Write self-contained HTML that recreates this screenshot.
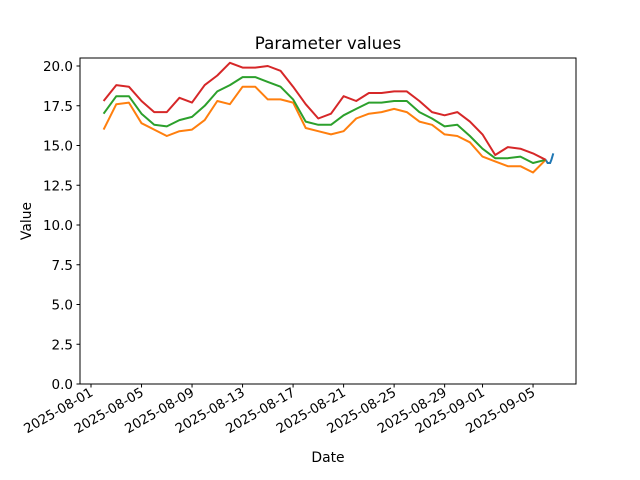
<!DOCTYPE html>
<html><head><meta charset="utf-8"><style>
body{margin:0;background:#fff;}
svg{display:block;font-family:"DejaVu Sans","Liberation Sans",sans-serif;}
</style></head><body>
<svg id="s" width="640" height="480" xmlns="http://www.w3.org/2000/svg">
<rect width="640" height="480" fill="#fff"/>
<text x="328" y="49" font-size="16.7" text-anchor="middle">Parameter values</text>
<text x="328" y="462" font-size="13.9" text-anchor="middle">Date</text>
<text x="0" y="0" font-size="13.9" text-anchor="middle" transform="translate(31,221) rotate(-90)">Value</text>
<g id="g"></g>
<rect x="80" y="58" width="496" height="326" fill="none" stroke="#000" stroke-width="1"/>
</svg>
<script>
var g=document.getElementById('g'),NS='http://www.w3.org/2000/svg';
function el(t,a,txt){var e=document.createElementNS(NS,t);for(var k in a)e.setAttribute(k,a[k]);if(txt)e.textContent=txt;g.appendChild(e);return e;}
function Y(v){return 384-v*15.9;}
function X(d){return 91+d*12.63;}
for(var i=0;i<=8;i++){var v=i*2.5,y=Y(v);el('line',{x1:76.5,x2:80,y1:y,y2:y,stroke:'#000'});el('text',{x:73,y:y+5,'font-size':'13.5','text-anchor':'end'},v.toFixed(1));}
var ticks=[[0,'2025-08-01'],[4,'2025-08-05'],[8,'2025-08-09'],[12,'2025-08-13'],[16,'2025-08-17'],[20,'2025-08-21'],[24,'2025-08-25'],[28,'2025-08-29'],[31,'2025-09-01'],[35,'2025-09-05']];
ticks.forEach(function(t){var x=X(t[0]);el('line',{x1:x,x2:x,y1:384,y2:387.5,stroke:'#000'});el('text',{x:0,y:0,'font-size':'13.3','text-anchor':'end',transform:'translate('+(x+3)+',395) rotate(-30)'},t[1]);});
var red=[17.8,18.8,18.7,17.8,17.1,17.1,18.0,17.7,18.8,19.4,20.2,19.9,19.9,20.0,19.7,18.7,17.6,16.7,17.0,18.1,17.8,18.3,18.3,18.4,18.4,17.8,17.1,16.9,17.1,16.5,15.7,14.4,14.9,14.8,14.5,14.1];
var green=[17.0,18.1,18.1,17.0,16.3,16.2,16.6,16.8,17.5,18.4,18.8,19.3,19.3,19.0,18.7,17.9,16.5,16.3,16.3,16.9,17.3,17.7,17.7,17.8,17.8,17.1,16.7,16.2,16.3,15.6,14.8,14.2,14.2,14.3,13.9,14.1];
var orange=[16.0,17.6,17.7,16.4,16.0,15.6,15.9,16.0,16.6,17.8,17.6,18.7,18.7,17.9,17.9,17.7,16.1,15.9,15.7,15.9,16.7,17.0,17.1,17.3,17.1,16.5,16.3,15.7,15.6,15.2,14.3,14.0,13.7,13.7,13.3,14.1];
function line(arr,c){var p=arr.map(function(v,i){return X(i+1).toFixed(1)+','+Y(v).toFixed(1)}).join(' ');el('polyline',{points:p,fill:'none',stroke:c,'stroke-width':'2','stroke-linejoin':'round'});}
var blue=[[36,14.1],[36.15,13.9],[36.35,13.9],[36.45,14.1],[36.6,14.5]];
el('polyline',{points:blue.map(function(p){return X(p[0]).toFixed(1)+','+Y(p[1]).toFixed(1)}).join(' '),fill:'none',stroke:'#1f77b4','stroke-width':'2'});
line(orange,'#ff7f0e');line(green,'#2ca02c');line(red,'#d62728');
</script>
</body></html>
